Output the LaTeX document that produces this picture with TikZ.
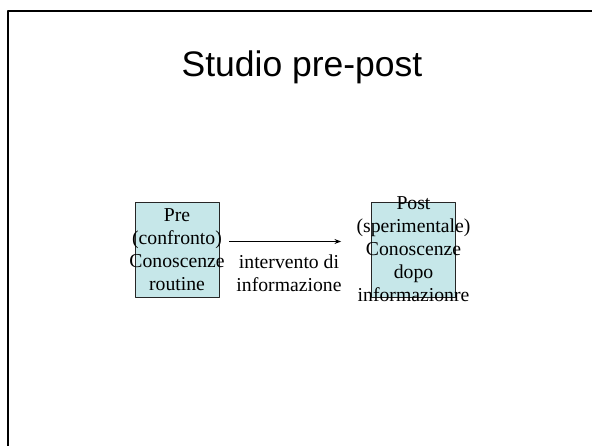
\documentclass[tikz,border=0pt]{standalone}
\usepackage{fontspec}
\setmainfont{Liberation Serif}
\newfontfamily\headfont{Liberation Sans}
\usepackage{tikz}
\usetikzlibrary{arrows.meta}
\definecolor{boxfill}{RGB}{198,231,233}

\begin{document}
\begin{tikzpicture}[x=1pt,y=-1pt,>=Stealth,line join=round]
  \tikzset{
    phase/.style={draw=black!85,fill=boxfill,line width=0.8pt,minimum width=84pt,minimum height=95pt,inner sep=0pt},
    phasetext/.style={align=center,font=\fontsize{19.7}{23}\selectfont,inner sep=0pt},
  }
  \useasboundingbox (0,0) rectangle (592,446);
  % slide frame, running off the page on the right and bottom
  \draw[line width=2.6pt] (8,446) -- (8,11) -- (592,11);
  \node[font=\headfont\fontsize{35.5}{42}\selectfont,anchor=base] (title) at (302,77) {Studio pre-post};
  % the two groups
  \node[phase] (pre) at (177,249.5) {};
  \node[phase] (post) at (413.5,249.5) {};
  \node[phasetext] (pretxt) at (pre.center) {Pre\\(confronto)\\Conoscenze\\routine};
  \node[phasetext] (posttxt) at (post.center) {Post\\(sperimentale)\\Conoscenze\\dopo\\informazionre};
  % intervention
  \draw[->,line width=0.8pt,shorten <=10pt,shorten >=30pt] ([yshift=8pt]pre.east) -- ([yshift=8pt]post.west);
  \node[phasetext,anchor=north] (infotxt) at (289,255) {intervento di\\informazione};
\end{tikzpicture}
\end{document}
